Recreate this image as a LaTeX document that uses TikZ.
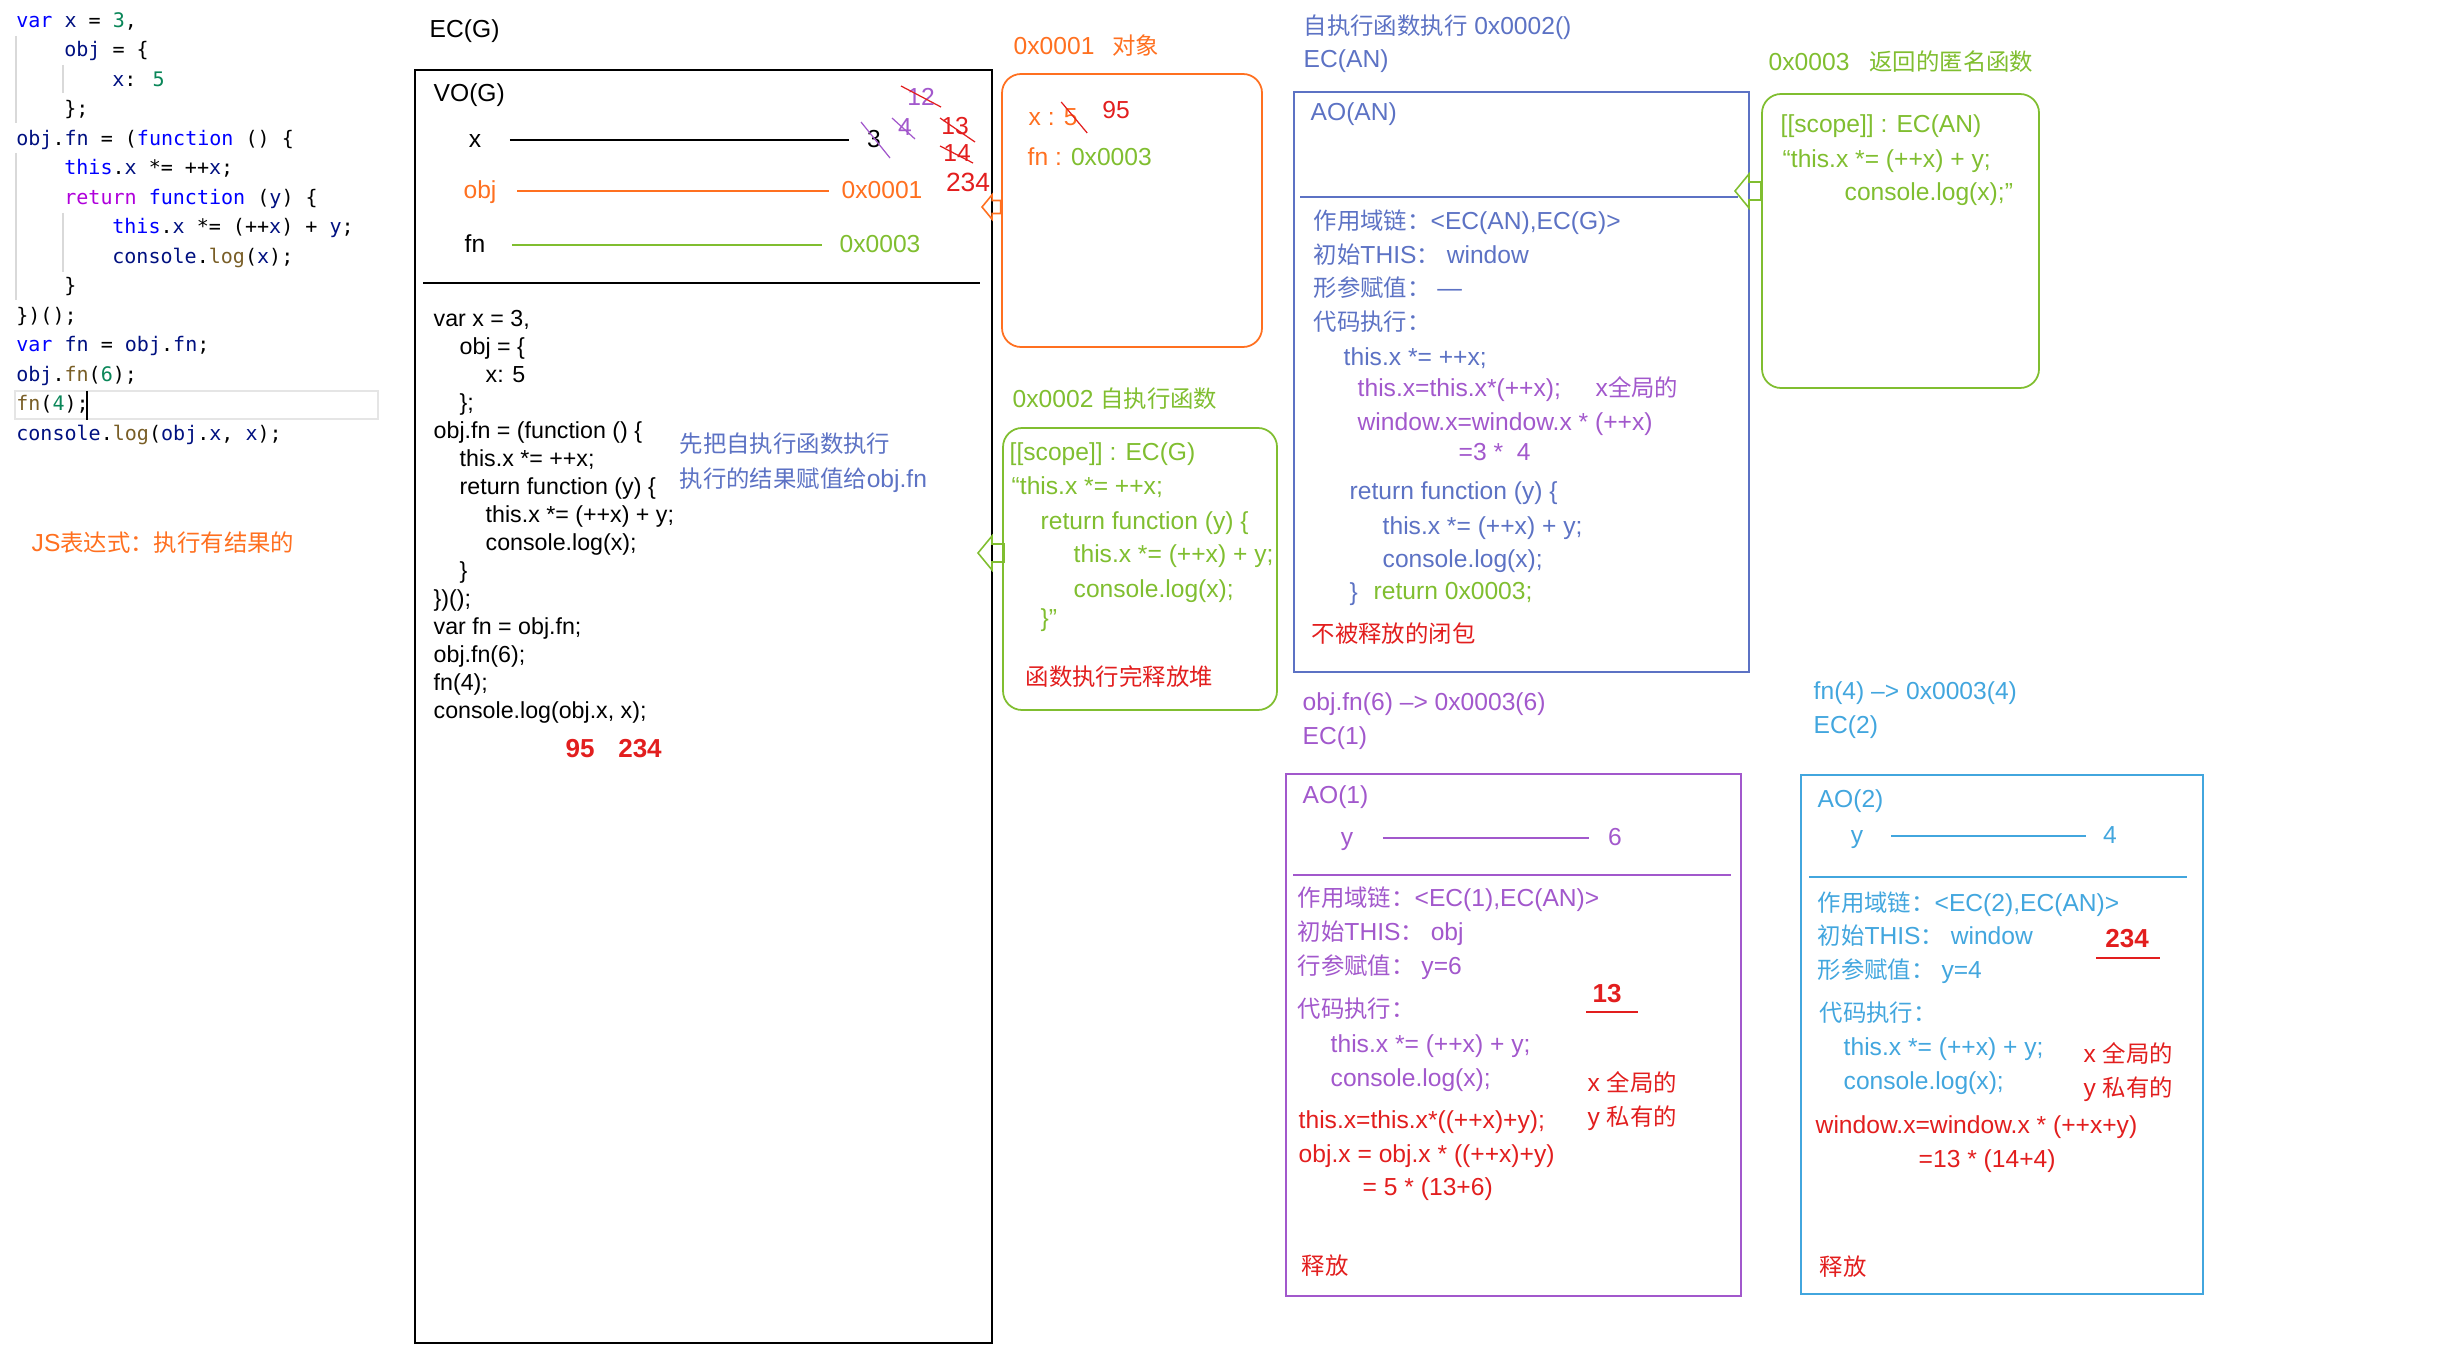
\documentclass[tikz,border=0pt]{standalone}
\usepackage{fontspec}
\setmainfont{Liberation Sans}
\newfontfamily\zhfont[Scale=0.95]{Noto Sans CJK SC}
\newfontfamily\codefont{DejaVu Sans Mono}
\definecolor{jsorange}{RGB}{255,112,32}
\definecolor{jsgreen}{RGB}{128,190,48}
\definecolor{jsred}{RGB}{226,30,30}
\definecolor{jspurple}{RGB}{162,88,204}
\definecolor{jsblue}{RGB}{92,114,196}
\definecolor{jscyan}{RGB}{66,166,222}
\definecolor{kwblue}{RGB}{0,0,255}
\definecolor{varnavy}{RGB}{0,16,128}
\definecolor{numgreen}{RGB}{9,134,88}
\definecolor{ctlpurple}{RGB}{175,0,219}
\definecolor{fnbrown}{RGB}{121,94,38}
\newcommand{\zh}[1]{{\zhfont #1}}
\newcommand{\kw}[1]{\textcolor{kwblue}{#1}}
\newcommand{\vr}[1]{\textcolor{varnavy}{#1}}
\newcommand{\nm}[1]{\textcolor{numgreen}{#1}}
\newcommand{\ct}[1]{\textcolor{ctlpurple}{#1}}
\newcommand{\fc}[1]{\textcolor{fnbrown}{#1}}
% hollow block arrow pointing left: colour, tip, size
\newcommand{\blockarrow}[3]{%
  \draw[#1, line width=0.45pt] #2 -- ++(14*#3,-17*#3) -- ++(0,8*#3) -- ++(12*#3,0)
    -- ++(0,18*#3) -- ++(-12*#3,0) -- ++(0,8*#3) -- cycle;}

\begin{document}
\begin{tikzpicture}[
    x=0.01cm, y=-0.01cm,
    txt/.style={anchor=west, inner sep=0pt, text height=5pt, text depth=0.6pt,
                font=\fontsize{7}{8.4}\selectfont},
    mid/.style={txt, anchor=center},
    src/.style={anchor=west, inner sep=0pt, text height=4.4pt, text depth=0.4pt,
                font=\codefont\fontsize{5.7}{7}\selectfont},
    ecbox/.style={draw, line width=0.5pt},
    heapbox/.style={draw, line width=0.5pt, rounded corners=0.19cm},
    rowline/.style={line width=0.45pt},
    strike/.style={line width=0.35pt}
]
\useasboundingbox (0,0) rectangle (2449,1355);

% editor snippet
\draw[black!15, line width=0.4pt] (16,36) -- (16,123) (63,65) -- (63,93)
    (16,153) -- (16,300) (63,213) -- (63,272);
\draw[black!10, line width=0.6pt] (15,391) rectangle (378,419);
\draw[line width=0.7pt] (87,391) -- (87,420);
\foreach \x/\t [count=\i from 0] in {
    15.6/{\kw{var} \vr{x} = \nm{3},},
    63.6/{\vr{obj} = \{},
    111.6/{\vr{x}: \nm{5}},
    63.6/{\};},
    15.6/{\vr{obj}.\vr{fn} = (\kw{function} () \{},
    63.6/{\kw{this}.\vr{x} *= ++\vr{x};},
    63.6/{\ct{return} \kw{function} (\vr{y}) \{},
    111.6/{\kw{this}.\vr{x} *= (++\vr{x}) + \vr{y};},
    111.6/{\vr{console}.\fc{log}(\vr{x});},
    63.6/{\}},
    15.6/{\})();},
    15.6/{\kw{var} \vr{fn} = \vr{obj}.\vr{fn};},
    15.6/{\vr{obj}.\fc{fn}(\nm{6});},
    15.6/{\fc{fn}(\nm{4});},
    15.6/{\vr{console}.\fc{log}(\vr{obj}.\vr{x}, \vr{x});}}{
    \node[src] (src\i) at (\x, 20+29.5*\i) {\t};
}
\node[txt, text=jsorange] (jsnote) at (31,544) {JS\zh{表达式：执行有结果的}};

% EC(G)
\node[txt] (ecglabel) at (429,30) {EC(G)};
\draw[ecbox] (415,70) rectangle (992,1343);
\node[txt] (vog) at (433,94) {VO(G)};
\node[mid] (gx) at (475,140) {x};
\node[mid] (gx3) at (874,140) {3};
\draw[rowline, shorten <=0.28cm, shorten >=0.17cm] (gx) -- (gx3);
\node[mid, text=jsorange] (gobj) at (480,191) {obj};
\node[mid, text=jsorange] (gobjv) at (882,191) {0x0001};
\draw[rowline, jsorange, shorten <=0.2cm, shorten >=0.12cm] (gobj) -- (gobjv);
\node[mid] (gfn) at (475,245) {fn};
\node[mid, text=jsgreen] (gfnv) at (880,245) {0x0003};
\draw[rowline, jsgreen, shorten <=0.26cm, shorten >=0.17cm] (gfn) -- (gfnv);
\node[mid, text=jspurple] (g12) at (921,98) {12};
\node[mid, text=jspurple] (g4) at (905,128) {4};
\node[mid, text=jsred] (g13) at (955,127) {13};
\node[mid, text=jsred] (g14) at (957,154) {14};
\node[mid, text=jsred, font=\fontsize{7.5}{9}\selectfont] (g234) at (968,184) {234};
\draw[strike, jspurple] ([shift={(-13,-18)}]gx3.center) -- ([shift={(16,18)}]gx3.center);
\draw[strike, jspurple] ([shift={(-13,-10)}]g4.center) -- ([shift={(10,11)}]g4.center);
\draw[strike, jsred] ([shift={(-20,-12)}]g12.center) -- ([shift={(20,9)}]g12.center);
\draw[strike, jsred] ([shift={(-15,-9)}]g13.center) -- ([shift={(20,15)}]g13.center);
\draw[strike, jsred] ([shift={(-17,-8)}]g14.center) -- ([shift={(16,9)}]g14.center);
\draw[ecbox] (423,283) -- (980,283);
\foreach \x/\t [count=\i from 0] in {
    433/{var x = 3,}, 459/{obj = \{}, 485/{x: 5}, 459/{\};},
    433/{obj.fn = (function () \{}, 459/{this.x *= ++x;},
    459/{return function (y) \{}, 485/{this.x *= (++x) + y;},
    485/{console.log(x);}, 459/{\}}, 433/{\})();}, 433/{var fn = obj.fn;},
    433/{obj.fn(6);}, 433/{fn(4);}, 433/{console.log(obj.x, x);}}{
    \node[txt, font=\fontsize{6.6}{8}\selectfont] (ecg\i) at (\x, 319+28*\i) {\t};
}
\node[txt, text=jsblue] (selfnote) at (679,445) {\zh{先把自执行函数执行}};
\node[txt, text=jsblue] (assignnote) at (679,480) {\zh{执行的结果赋值给}obj.fn};
\node[mid, text=jsred, font=\bfseries\fontsize{7.4}{9}\selectfont] (out95) at (580,750) {95};
\node[mid, text=jsred, font=\bfseries\fontsize{7.4}{9}\selectfont] (out234) at (640,750) {234};

% heap 0x0001
\node[txt, text=jsorange] (objlabel) at (1013,47) {0x0001\hspace{0.18cm}\zh{对象}};
\draw[heapbox, jsorange] (1002,74) rectangle (1262,347);
\node[txt, text=jsorange] (objx) at (1028,118) {x : 5};
\draw[strike, jsred] ([shift={(-17,-16)}]objx.east) -- ([shift={(9,15)}]objx.east);
\node[mid, text=jsred] (obj95) at (1116,111) {95};
\node[txt, text=jsorange] (objfn) at (1027,158) {fn : \textcolor{jsgreen}{0x0003}};
\blockarrow{jsorange}{(982,207)}{0.72}

% heap 0x0002
\node[txt, text=jsgreen] (iifelabel) at (1012,400) {0x0002 \zh{自执行函数}};
\draw[heapbox, jsgreen] (1003,428) rectangle (1277,710);
\foreach \x/\y/\t [count=\i] in {
    1009/453/{[[scope]] : EC(G)}, 1011/487/{“this.x *= ++x;},
    1040/522/{return function (y) \{}, 1073/555/{this.x *= (++x) + y;},
    1073/590/{console.log(x);}, 1040/619/{\}”}}{
    \node[txt, text=jsgreen] (iife\i) at (\x,\y) {\t};
}
\node[txt, text=jsred] (heapfree) at (1025,678) {\zh{函数执行完释放堆}};
\blockarrow{jsgreen}{(978,553)}{1}

% EC(AN)
\node[txt, text=jsblue] (anhead) at (1303,27) {\zh{自执行函数执行} 0x0002()};
\node[txt, text=jsblue] (anlabel) at (1303,60) {EC(AN)};
\draw[ecbox, jsblue] (1294,92) rectangle (1749,672);
\node[txt, text=jsblue] (aoan) at (1310,113) {AO(AN)};
\draw[ecbox, jsblue] (1300,197) -- (1738,197);
\foreach \x/\y/\c/\t [count=\i] in {
    1313/222/jsblue/{\zh{作用域链：}<EC(AN),EC(G)>},
    1313/256/jsblue/{\zh{初始}THIS\zh{：} window},
    1313/289/jsblue/{\zh{形参赋值：} —},
    1313/323/jsblue/{\zh{代码执行：}},
    1343/358/jsblue/{this.x *= ++x;},
    1357/389/jspurple/{this.x=this.x*(++x);},
    1595/389/jspurple/{x\zh{全局的}},
    1357/423/jspurple/{window.x=window.x * (++x)},
    1458/453/jspurple/{=3 *\ \ 4},
    1349/492/jsblue/{return function (y) \{},
    1382/527/jsblue/{this.x *= (++x) + y;},
    1382/560/jsblue/{console.log(x);},
    1349/593/jsblue/{\}},
    1373/592/jsgreen/{return 0x0003;},
    1311/635/jsred/{\zh{不被释放的闭包}}}{
    \node[txt, text=\c] (an\i) at (\x,\y) {\t};
}

% heap 0x0003
\node[txt, text=jsgreen] (anonlabel) at (1768,63) {0x0003\hspace{0.2cm}\zh{返回的匿名函数}};
\draw[heapbox, jsgreen] (1762,94) rectangle (2039,388);
\foreach \x/\y/\t [count=\i] in {
    1780/125/{[[scope]] : EC(AN)}, 1782/160/{“this.x *= (++x) + y;},
    1844/193/{console.log(x);”}}{
    \node[txt, text=jsgreen] (anon\i) at (\x,\y) {\t};
}
\blockarrow{jsgreen}{(1735,191)}{1}

% EC(1)
\node[txt, text=jspurple] (call1) at (1302,703) {obj.fn(6) –> 0x0003(6)};
\node[txt, text=jspurple] (ec1) at (1302,737) {EC(1)};
\draw[ecbox, jspurple] (1286,774) rectangle (1741,1296);
\node[txt, text=jspurple] (ao1) at (1302,796) {AO(1)};
\node[mid, text=jspurple] (y1) at (1347,838) {y};
\node[mid, text=jspurple] (y1v) at (1615,838) {6};
\draw[rowline, jspurple, shorten <=0.29cm, shorten >=0.18cm] (y1) -- (y1v);
\draw[ecbox, jspurple] (1293,875) -- (1731,875);
\foreach \x/\y/\c/\t [count=\i] in {
    1297/899/jspurple/{\zh{作用域链：}<EC(1),EC(AN)>},
    1297/933/jspurple/{\zh{初始}THIS\zh{：} obj},
    1297/967/jspurple/{\zh{行参赋值：} y=6},
    1297/1010/jspurple/{\zh{代码执行：}},
    1330/1045/jspurple/{this.x *= (++x) + y;},
    1330/1079/jspurple/{console.log(x);},
    1587/1084/jsred/{x \zh{全局的}},
    1587/1118/jsred/{y \zh{私有的}},
    1298/1121/jsred/{this.x=this.x*((++x)+y);},
    1298/1155/jsred/{obj.x = obj.x * ((++x)+y)},
    1362/1188/jsred/{= 5 * (13+6)},
    1301/1267/jsred/{\zh{释放}}}{
    \node[txt, text=\c] (one\i) at (\x,\y) {\t};
}
\node[mid, text=jsred, font=\bfseries\fontsize{7.4}{9}\selectfont] (r13) at (1607,995) {13};
\draw[rowline, jsred] ([shift={(-21,17)}]r13.center) -- ([shift={(31,17)}]r13.center);

% EC(2)
\node[txt, text=jscyan] (call2) at (1813,692) {fn(4) –> 0x0003(4)};
\node[txt, text=jscyan] (ec2) at (1813,726) {EC(2)};
\draw[ecbox, jscyan] (1801,775) rectangle (2203,1294);
\node[txt, text=jscyan] (ao2) at (1817,800) {AO(2)};
\node[mid, text=jscyan] (y2) at (1857,836) {y};
\node[mid, text=jscyan] (y2v) at (2110,836) {4};
\draw[rowline, jscyan, shorten <=0.27cm, shorten >=0.16cm] (y2) -- (y2v);
\draw[ecbox, jscyan] (1809,877) -- (2187,877);
\foreach \x/\y/\c/\t [count=\i] in {
    1817/904/jscyan/{\zh{作用域链：}<EC(2),EC(AN)>},
    1817/937/jscyan/{\zh{初始}THIS\zh{：} window},
    1817/971/jscyan/{\zh{形参赋值：} y=4},
    1819/1014/jscyan/{\zh{代码执行：}},
    1843/1048/jscyan/{this.x *= (++x) + y;},
    1843/1082/jscyan/{console.log(x);},
    2083/1055/jsred/{x \zh{全局的}},
    2083/1089/jsred/{y \zh{私有的}},
    1815/1126/jsred/{window.x=window.x * (++x+y)},
    1918/1160/jsred/{=13 * (14+4)},
    1819/1268/jsred/{\zh{释放}}}{
    \node[txt, text=\c] (two\i) at (\x,\y) {\t};
}
\node[mid, text=jsred, font=\bfseries\fontsize{7.4}{9}\selectfont] (r234) at (2127,940) {234};
\draw[rowline, jsred] ([shift={(-31,18)}]r234.center) -- ([shift={(33,18)}]r234.center);
\end{tikzpicture}
\end{document}
